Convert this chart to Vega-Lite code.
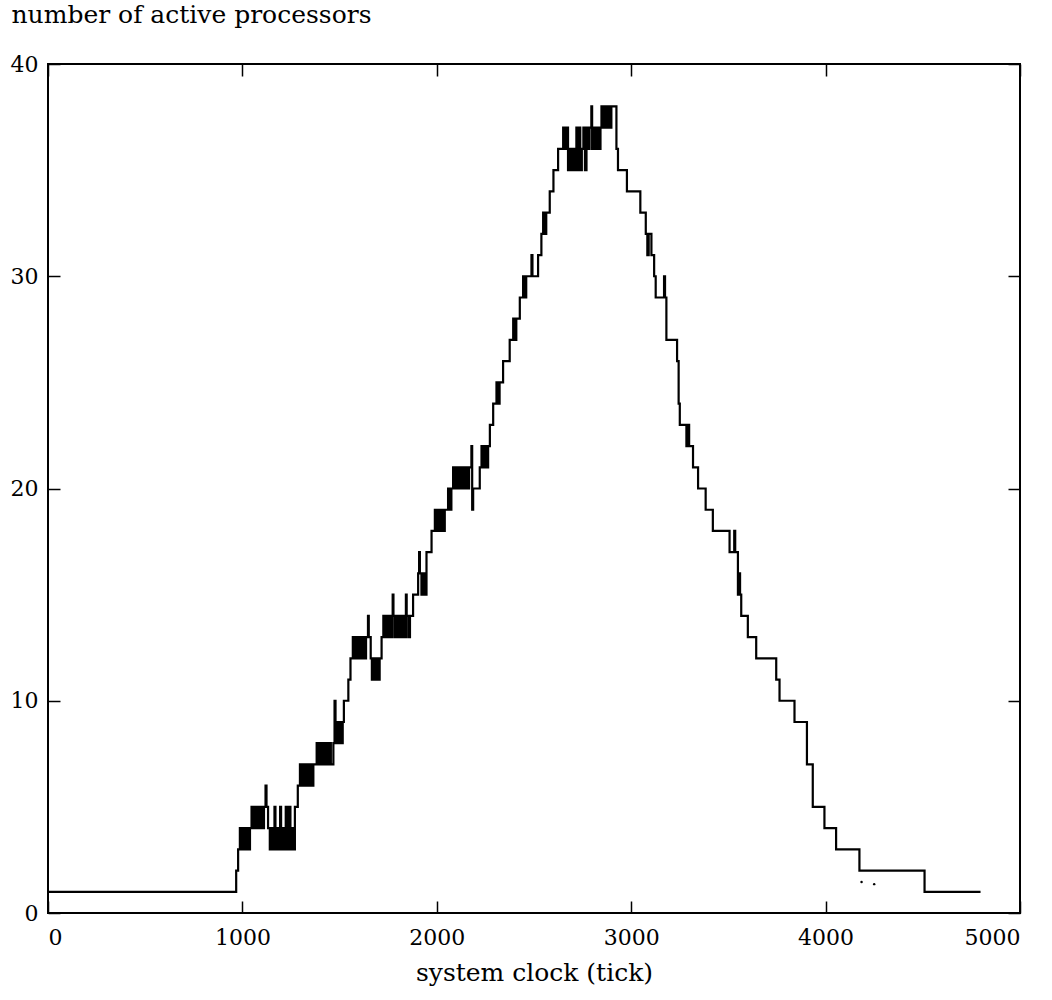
{
  "$schema": "https://vega.github.io/schema/vega-lite/v6.json",
  "autosize": "none",
  "width": 972,
  "height": 849,
  "padding": {"left": 48, "top": 64, "right": 32, "bottom": 87},
  "background": "white",
  "config": {
    "view": {"stroke": "black", "strokeWidth": 2},
    "font": "DejaVu Serif",
    "axis": {
      "domain": false,
      "grid": false,
      "ticks": true,
      "tickColor": "black",
      "tickWidth": 1.5,
      "tickSize": -12,
      "labelFont": "DejaVu Serif",
      "labelFontSize": 22,
      "labelColor": "black",
      "titleFont": "DejaVu Serif",
      "titleFontSize": 25,
      "titleFontWeight": "normal",
      "titleColor": "black"
    }
  },
  "datasets": {
    "active": [
      {"t": 0, "n": 1}, {"t": 968, "n": 2}, {"t": 978, "n": 3}, {"t": 987, "n": 4}, {"t": 995, "n": 3},
      {"t": 1003, "n": 4}, {"t": 1011, "n": 3}, {"t": 1019, "n": 4}, {"t": 1030, "n": 3}, {"t": 1039, "n": 4},
      {"t": 1047, "n": 5}, {"t": 1055, "n": 4}, {"t": 1063, "n": 5}, {"t": 1071, "n": 4}, {"t": 1079, "n": 5},
      {"t": 1087, "n": 4}, {"t": 1095, "n": 5}, {"t": 1103, "n": 4}, {"t": 1111, "n": 5}, {"t": 1119, "n": 6},
      {"t": 1124, "n": 5}, {"t": 1132, "n": 4}, {"t": 1141, "n": 3}, {"t": 1149, "n": 4}, {"t": 1157, "n": 3},
      {"t": 1165, "n": 5}, {"t": 1170, "n": 3}, {"t": 1178, "n": 4}, {"t": 1186, "n": 3}, {"t": 1194, "n": 5},
      {"t": 1199, "n": 3}, {"t": 1207, "n": 4}, {"t": 1215, "n": 3}, {"t": 1223, "n": 5}, {"t": 1231, "n": 3},
      {"t": 1239, "n": 5}, {"t": 1247, "n": 3}, {"t": 1255, "n": 4}, {"t": 1263, "n": 3}, {"t": 1270, "n": 5},
      {"t": 1285, "n": 6}, {"t": 1296, "n": 7}, {"t": 1304, "n": 6}, {"t": 1312, "n": 7}, {"t": 1320, "n": 6},
      {"t": 1329, "n": 7}, {"t": 1337, "n": 6}, {"t": 1345, "n": 7}, {"t": 1355, "n": 6}, {"t": 1365, "n": 7},
      {"t": 1382, "n": 8}, {"t": 1390, "n": 7}, {"t": 1398, "n": 8}, {"t": 1406, "n": 7}, {"t": 1414, "n": 8},
      {"t": 1422, "n": 7}, {"t": 1430, "n": 8}, {"t": 1438, "n": 7}, {"t": 1446, "n": 8}, {"t": 1455, "n": 7},
      {"t": 1468, "n": 8}, {"t": 1474, "n": 10}, {"t": 1479, "n": 8}, {"t": 1487, "n": 9}, {"t": 1494, "n": 8},
      {"t": 1502, "n": 9}, {"t": 1510, "n": 8}, {"t": 1516, "n": 9}, {"t": 1522, "n": 10}, {"t": 1545, "n": 11},
      {"t": 1556, "n": 12}, {"t": 1568, "n": 13}, {"t": 1577, "n": 12}, {"t": 1585, "n": 13}, {"t": 1594, "n": 12},
      {"t": 1602, "n": 13}, {"t": 1611, "n": 12}, {"t": 1619, "n": 13}, {"t": 1628, "n": 12}, {"t": 1636, "n": 13},
      {"t": 1646, "n": 14}, {"t": 1650, "n": 13}, {"t": 1660, "n": 12}, {"t": 1666, "n": 11}, {"t": 1674, "n": 12},
      {"t": 1682, "n": 11}, {"t": 1690, "n": 12}, {"t": 1698, "n": 11}, {"t": 1706, "n": 12}, {"t": 1716, "n": 13},
      {"t": 1725, "n": 14}, {"t": 1733, "n": 13}, {"t": 1741, "n": 14}, {"t": 1749, "n": 13}, {"t": 1757, "n": 14},
      {"t": 1765, "n": 13}, {"t": 1773, "n": 15}, {"t": 1777, "n": 14}, {"t": 1785, "n": 13}, {"t": 1793, "n": 14},
      {"t": 1801, "n": 13}, {"t": 1809, "n": 14}, {"t": 1817, "n": 13}, {"t": 1825, "n": 14}, {"t": 1833, "n": 13},
      {"t": 1841, "n": 15}, {"t": 1845, "n": 14}, {"t": 1853, "n": 13}, {"t": 1862, "n": 14}, {"t": 1878, "n": 15},
      {"t": 1904, "n": 16}, {"t": 1909, "n": 17}, {"t": 1913, "n": 16}, {"t": 1921, "n": 15}, {"t": 1929, "n": 16},
      {"t": 1937, "n": 15}, {"t": 1947, "n": 17}, {"t": 1973, "n": 18}, {"t": 1990, "n": 19}, {"t": 1998, "n": 18},
      {"t": 2006, "n": 19}, {"t": 2014, "n": 18}, {"t": 2022, "n": 19}, {"t": 2030, "n": 18}, {"t": 2041, "n": 19},
      {"t": 2058, "n": 20}, {"t": 2066, "n": 19}, {"t": 2075, "n": 20}, {"t": 2084, "n": 21}, {"t": 2092, "n": 20},
      {"t": 2100, "n": 21}, {"t": 2108, "n": 20}, {"t": 2117, "n": 21}, {"t": 2125, "n": 20}, {"t": 2134, "n": 21},
      {"t": 2142, "n": 20}, {"t": 2150, "n": 21}, {"t": 2158, "n": 20}, {"t": 2166, "n": 21}, {"t": 2178, "n": 22},
      {"t": 2182, "n": 19}, {"t": 2187, "n": 20}, {"t": 2221, "n": 21}, {"t": 2230, "n": 22}, {"t": 2238, "n": 21},
      {"t": 2247, "n": 22}, {"t": 2256, "n": 21}, {"t": 2264, "n": 22}, {"t": 2273, "n": 23}, {"t": 2290, "n": 24},
      {"t": 2307, "n": 25}, {"t": 2315, "n": 24}, {"t": 2323, "n": 25}, {"t": 2341, "n": 26}, {"t": 2375, "n": 27},
      {"t": 2393, "n": 28}, {"t": 2401, "n": 27}, {"t": 2409, "n": 28}, {"t": 2427, "n": 29}, {"t": 2444, "n": 30},
      {"t": 2452, "n": 29}, {"t": 2460, "n": 30}, {"t": 2487, "n": 31}, {"t": 2492, "n": 30}, {"t": 2521, "n": 31},
      {"t": 2538, "n": 32}, {"t": 2547, "n": 33}, {"t": 2555, "n": 32}, {"t": 2563, "n": 33}, {"t": 2581, "n": 34},
      {"t": 2600, "n": 35}, {"t": 2624, "n": 36}, {"t": 2650, "n": 37}, {"t": 2658, "n": 36}, {"t": 2666, "n": 37},
      {"t": 2675, "n": 35}, {"t": 2684, "n": 36}, {"t": 2692, "n": 35}, {"t": 2701, "n": 36}, {"t": 2710, "n": 35},
      {"t": 2718, "n": 37}, {"t": 2722, "n": 35}, {"t": 2730, "n": 37}, {"t": 2738, "n": 35}, {"t": 2746, "n": 36},
      {"t": 2754, "n": 37}, {"t": 2762, "n": 35}, {"t": 2770, "n": 37}, {"t": 2778, "n": 36}, {"t": 2786, "n": 37},
      {"t": 2795, "n": 38}, {"t": 2799, "n": 36}, {"t": 2808, "n": 37}, {"t": 2816, "n": 36}, {"t": 2825, "n": 37},
      {"t": 2833, "n": 36}, {"t": 2842, "n": 37}, {"t": 2847, "n": 38}, {"t": 2855, "n": 37}, {"t": 2864, "n": 38},
      {"t": 2872, "n": 37}, {"t": 2881, "n": 38}, {"t": 2889, "n": 37}, {"t": 2898, "n": 38}, {"t": 2924, "n": 36},
      {"t": 2932, "n": 35}, {"t": 2978, "n": 34}, {"t": 3047, "n": 33}, {"t": 3075, "n": 32}, {"t": 3083, "n": 31},
      {"t": 3090, "n": 32}, {"t": 3104, "n": 31}, {"t": 3118, "n": 30}, {"t": 3126, "n": 29}, {"t": 3169, "n": 30},
      {"t": 3174, "n": 29}, {"t": 3181, "n": 27}, {"t": 3236, "n": 26}, {"t": 3244, "n": 24}, {"t": 3250, "n": 23},
      {"t": 3284, "n": 22}, {"t": 3290, "n": 23}, {"t": 3298, "n": 22}, {"t": 3318, "n": 21}, {"t": 3344, "n": 20},
      {"t": 3383, "n": 19}, {"t": 3420, "n": 18}, {"t": 3506, "n": 17}, {"t": 3530, "n": 18}, {"t": 3535, "n": 17},
      {"t": 3549, "n": 15}, {"t": 3555, "n": 16}, {"t": 3560, "n": 15}, {"t": 3566, "n": 14}, {"t": 3600, "n": 13},
      {"t": 3643, "n": 12}, {"t": 3746, "n": 11}, {"t": 3763, "n": 10}, {"t": 3840, "n": 9}, {"t": 3904, "n": 7},
      {"t": 3934, "n": 5}, {"t": 3994, "n": 4}, {"t": 4054, "n": 3}, {"t": 4174, "n": 2}, {"t": 4509, "n": 1},
      {"t": 4797, "n": 1}
    ],
    "specks": [
      {"t": 4185, "n": 1.46}, {"t": 4250, "n": 1.36}
    ]
  },
  "layer": [
    {
      "data": {"name": "active"},
      "mark": {"type": "line", "interpolate": "step-after", "color": "black", "strokeWidth": 2.2},
      "encoding": {
        "x": {
          "field": "t", "type": "quantitative",
          "scale": {"domain": [0, 5000], "nice": false, "zero": false},
          "axis": {
            "orient": "bottom", "values": [0, 1000, 2000, 3000, 4000, 5000], "format": "d",
            "labelPadding": 26, "title": "system clock (tick)", "titlePadding": 12
          }
        },
        "y": {
          "field": "n", "type": "quantitative",
          "scale": {"domain": [0, 40], "nice": false, "zero": false},
          "axis": {
            "orient": "left", "values": [0, 10, 20, 30, 40], "format": "d",
            "labelPadding": 22,
            "title": "number of active processors",
            "titleAngle": 0, "titleAlign": "left", "titleBaseline": "alphabetic",
            "titleX": -37, "titleY": -42
          }
        }
      }
    },
    {
      "data": {"name": "specks"},
      "mark": {"type": "point", "filled": true, "color": "black", "size": 6, "opacity": 1},
      "encoding": {
        "x": {
          "field": "t", "type": "quantitative",
          "axis": {"orient": "top", "values": [0, 1000, 2000, 3000, 4000, 5000], "labels": false, "title": null}
        },
        "y": {
          "field": "n", "type": "quantitative",
          "axis": {"orient": "right", "values": [0, 10, 20, 30, 40], "labels": false, "title": null}
        }
      }
    }
  ],
  "resolve": {"axis": {"x": "independent", "y": "independent"}}
}
